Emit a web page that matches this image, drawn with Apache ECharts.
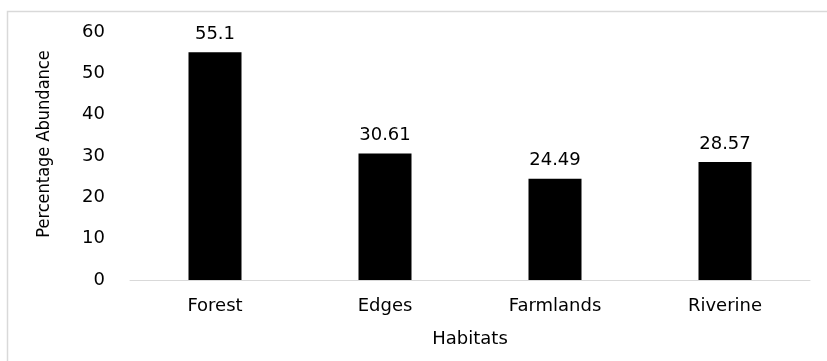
<!DOCTYPE html>
<html>
<head>
<meta charset="utf-8">
<script src="https://cdn.jsdelivr.net/npm/echarts@6/dist/echarts.min.js"></script>
<style>html,body{margin:0;padding:0;background:#fff}#c{width:827px;height:361px}</style>
</head>
<body>
<div id="c"></div>
<script>
const categories = ['Forest', 'Edges', 'Farmlands', 'Riverine'];
const values = [55.1, 30.61, 24.49, 28.57];
const yTicks = { min: 0, max: 60, interval: 10 };
const xName = 'Habitats';
const yName = 'Percentage Abundance';

const chart = echarts.init(document.getElementById('c'), null, { renderer: 'canvas' });
const font = 'DejaVu Sans';
chart.setOption({
  animation: false,
  backgroundColor: '#fff',
  graphic: [{
    type: 'rect', z: -1,
    shape: { x: 7.5, y: 11.5, width: 900, height: 400 },
    style: { fill: 'none', stroke: '#d9d9d9', lineWidth: 1.5 }
  }],
  grid: { left: 130, right: 17, top: 32, bottom: 81 },
  xAxis: {
    type: 'category',
    data: categories,
    name: xName,
    nameLocation: 'middle',
    nameGap: 50,
    nameTextStyle: { fontFamily: font, fontSize: 18, color: '#000' },
    axisLine: { lineStyle: { color: '#d9d9d9', width: 1 } },
    axisTick: { show: false },
    axisLabel: { fontFamily: font, fontSize: 18, color: '#000', margin: 17 }
  },
  yAxis: {
    type: 'value',
    min: yTicks.min, max: yTicks.max, interval: yTicks.interval,
    name: yName,
    nameLocation: 'middle',
    nameGap: 77,
    nameTextStyle: { fontFamily: 'DejaVu Sans Condensed, Liberation Sans Narrow, sans-serif', fontSize: 18, color: '#000', padding: [0, 0, 0, 24] },
    axisLine: { show: false },
    axisTick: { show: false },
    splitLine: { show: false },
    axisLabel: { fontFamily: font, fontSize: 18, color: '#000', margin: 25 }
  },
  series: [{
    type: 'bar',
    data: values,
    barWidth: 53,
    itemStyle: { color: '#000' },
    label: {
      show: true, position: 'top', distance: 9,
      fontFamily: font, fontSize: 18, color: '#000',
      formatter: p => String(p.value)
    }
  }]
});
</script>
</body>
</html>
